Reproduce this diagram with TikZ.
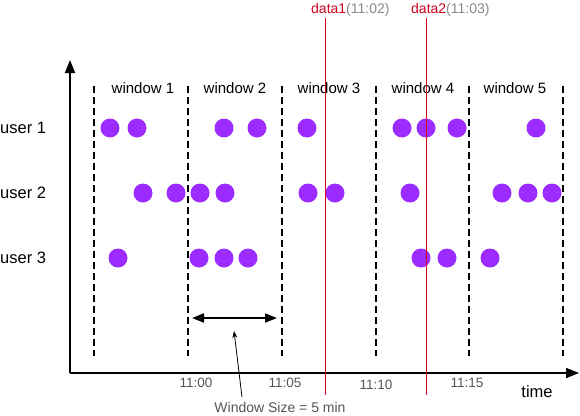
\documentclass[tikz,border=0pt]{standalone}
\usepackage{fontspec}
\setmainfont{Liberation Sans}
\usetikzlibrary{arrows.meta}
\definecolor{dotc}{HTML}{9B2BFF}
\definecolor{redc}{HTML}{D0021B}
\definecolor{grayc}{HTML}{8A8A8A}
\definecolor{tickc}{HTML}{555555}
\tikzset{
  axis/.style={line width=1.8pt,-{Triangle[length=13pt,width=10pt]}},
  winline/.style={line width=1.8pt,dash pattern=on 7pt off 4pt},
  ev/.style={circle,fill=dotc,inner sep=0pt,minimum size=19pt},
  datal/.style={draw=redc,line width=0.8pt},
  winlab/.style={font=\fontsize{15}{17}\selectfont,anchor=center},
  userlab/.style={font=\fontsize{16.5}{18}\selectfont,anchor=west},
  ticklab/.style={font=\fontsize{13.5}{15}\selectfont,text=tickc},
  toplab/.style={font=\fontsize{14}{16}\selectfont,anchor=west,inner sep=0pt}
}
\begin{document}
\begin{tikzpicture}[x=1pt,y=-1pt]
\useasboundingbox (0,0) rectangle (580,415);
% axes
\coordinate (o) at (70,373);
\coordinate (ytip) at (70,60);
\coordinate (xtip) at (579,373);
\draw[axis] (o) -- (ytip);
\draw[axis] (o) -- (xtip);
% window dashed lines
\foreach \i/\x in {0/94,1/188,2/282,3/376,4/469,5/563}{
  \coordinate (wt\i) at (\x,86);
  \coordinate (wb\i) at (\x,356);
  \draw[winline] (wt\i) -- (wb\i);
}
% window labels
\node[winlab] (w1) at (143,88) {window 1};
\node[winlab] (w2) at (235,88) {window 2};
\node[winlab] (w3) at (329,88) {window 3};
\node[winlab] (w4) at (423,88) {window 4};
\node[winlab] (w5) at (515,88) {window 5};
% user labels
\node[userlab,inner sep=0pt] (u1) at (0,128) {user 1};
\node[userlab,inner sep=0pt] (u2) at (0,193) {user 2};
\node[userlab,inner sep=0pt] (u3) at (0,258) {user 3};
% events
\foreach \x [count=\k] in {110,137,224,257,307,402,426,457,536}{
  \node[ev] (a\k) at (\x,128) {};
}
\foreach \x [count=\k] in {143,176,200,225,308,335,410,502,528,552}{
  \node[ev] (b\k) at (\x,193) {};
}
\foreach \x [count=\k] in {118,199,224,248,421,447,490}{
  \node[ev] (c\k) at (\x,258) {};
}
% data lines
\coordinate (d1t) at (325,18);
\coordinate (d1b) at (325,395);
\coordinate (d2t) at (426,18);
\coordinate (d2b) at (426,395);
\draw[datal] (d1t) -- (d1b);
\draw[datal] (d2t) -- (d2b);
\node[toplab] (t1) at (311,10) {\textcolor{redc}{data1}\textcolor{grayc}{(11:02)}};
\node[toplab] (t2) at (411,10) {\textcolor{redc}{data2}\textcolor{grayc}{(11:03)}};
% window size arrow
\coordinate (ws1) at (192,318);
\coordinate (ws2) at (277,318);
\draw[line width=1.8pt,{Triangle[length=12pt,width=9pt]}-{Triangle[length=12pt,width=9pt]}] (ws1) -- (ws2);
\node[font=\fontsize{14}{16}\selectfont,text=tickc] (wsz) at (280,407) {Window Size = 5 min};
\coordinate (pt) at (234,331);
\coordinate (pb) at (242,397);
\draw[line width=0.8pt,-{Stealth[length=7pt,width=5pt]}] (pb) -- (pt);
% tick labels
\node[ticklab] (k1) at (196,383) {11:00};
\node[ticklab] (k2) at (285,383) {11:05};
\node[ticklab] (k3) at (376,385) {11:10};
\node[ticklab] (k4) at (467,383) {11:15};
\node[font=\fontsize{16.5}{18}\selectfont] (tm) at (537,392) {time};
\end{tikzpicture}
\end{document}
